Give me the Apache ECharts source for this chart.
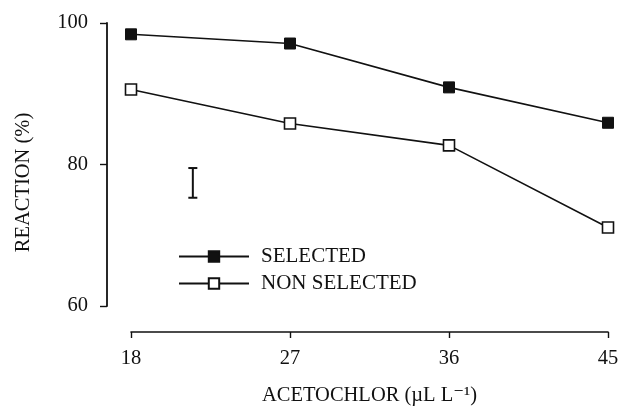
<!DOCTYPE html>
<html>
<head>
<meta charset="utf-8">
<script src="https://cdn.jsdelivr.net/npm/echarts@6/dist/echarts.min.js"></script>
<style>
html,body{margin:0;padding:0;background:#fff;}
#c{width:618px;height:410px;}
</style>
</head>
<body>
<div id="c"></div>
<script>
// Data
const xValues = [18, 27, 36, 45];
const selected = [98.4, 97.1, 90.9, 85.9];
const nonSelected = [90.6, 85.8, 82.7, 71.1];
const errorBar = [[21.5, 75.3, 79.5]]; // [x, low, high]
const xTicks = [18, 27, 36, 45];
const yTicks = [60, 80, 100];
const seriesNames = ['SELECTED', 'NON SELECTED'];
const xName = 'ACETOCHLOR (\u00B5L L\u207B\u00B9)';
const yName = 'REACTION (%)';

const FONT = '"Liberation Serif", "DejaVu Serif", serif';
const INK = '#111';

const chart = echarts.init(document.getElementById('c'), null, {renderer: 'canvas'});

function pairs(xs, ys) { return xs.map((x, i) => [x, ys[i]]); }

chart.setOption({
  backgroundColor: '#fff',
  animation: false,
  grid: {left: 131, right: 10, top: 23, bottom: 104, containLabel: false, outerBoundsMode: 'none'},
  xAxis: {
    type: 'value',
    min: xTicks[0], max: xTicks[xTicks.length - 1], interval: 9,
    offset: 26,
    name: xName, nameLocation: 'middle', nameGap: 53,
    nameTextStyle: {fontFamily: FONT, fontSize: 20.5, color: INK},
    axisLine: {show: true, lineStyle: {color: INK, width: 1.6}},
    axisTick: {show: true, inside: false, length: 6, lineStyle: {color: INK, width: 1.4}},
    axisLabel: {margin: 16, fontFamily: FONT, fontSize: 20.5, color: INK},
    splitLine: {show: false}
  },
  yAxis: {
    type: 'value',
    min: yTicks[0], max: yTicks[yTicks.length - 1], interval: 20,
    offset: 24,
    name: yName, nameLocation: 'middle', nameGap: 73,
    nameTextStyle: {fontFamily: FONT, fontSize: 20.5, color: INK, padding: [0, 36, 0, 0]},
    axisLine: {show: true, lineStyle: {color: INK, width: 1.8}},
    axisTick: {show: true, inside: false, length: 7, lineStyle: {color: INK, width: 1.4}},
    axisLabel: {margin: 19, fontFamily: FONT, fontSize: 20.5, color: INK},
    splitLine: {show: false}
  },
  legend: {
    data: seriesNames,
    orient: 'vertical',
    left: 173, top: 241,
    itemWidth: 70, itemHeight: 13, itemGap: 6,
    textStyle: {fontFamily: FONT, fontSize: 21, color: INK, lineHeight: 21, padding: [0, 0, 0, 7]}
  },
  series: [
    {
      name: seriesNames[0], type: 'line',
      data: pairs(xValues, selected),
      symbol: 'rect', symbolSize: 11,
      lineStyle: {color: INK, width: 1.6},
      itemStyle: {color: INK, borderColor: INK, borderWidth: 1}
    },
    {
      name: seriesNames[1], type: 'line',
      data: pairs(xValues, nonSelected),
      symbol: 'rect', symbolSize: 11,
      lineStyle: {color: INK, width: 1.6},
      itemStyle: {color: '#fff', borderColor: INK, borderWidth: 1.6}
    },
    {
      name: 'error', type: 'custom',
      data: errorBar,
      renderItem: function (params, api) {
        const x = api.value(0);
        const lo = api.coord([x, api.value(1)]);
        const hi = api.coord([x, api.value(2)]);
        const w = 4.5;
        const st = {stroke: INK, lineWidth: 2};
        return {
          type: 'group',
          children: [
            {type: 'line', shape: {x1: lo[0], y1: lo[1], x2: hi[0], y2: hi[1]}, style: st},
            {type: 'line', shape: {x1: lo[0] - w, y1: lo[1], x2: lo[0] + w, y2: lo[1]}, style: st},
            {type: 'line', shape: {x1: hi[0] - w, y1: hi[1], x2: hi[0] + w, y2: hi[1]}, style: st}
          ]
        };
      }
    }
  ]
});
</script>
</body>
</html>
